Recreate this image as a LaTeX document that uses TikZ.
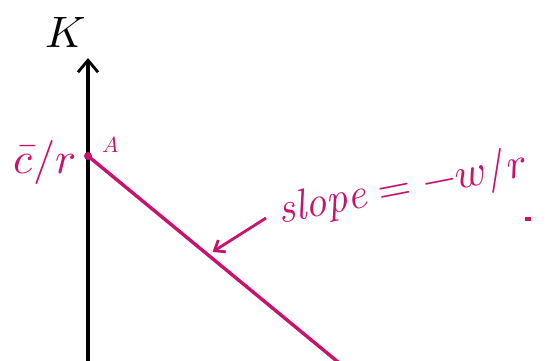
\documentclass[tikz,border=0pt]{standalone}
\usepackage{unicode-math}
\usetikzlibrary{arrows.meta,calc}
\definecolor{ink}{RGB}{200,18,110}
\tikzset{
  axisline/.style={line width=3.4pt,-{Straight Barb[length=12pt,width=20pt,line width=2.8pt]}},
  budget/.style={ink,line width=3.4pt},
  bigtext/.style={inner sep=0pt,font=\fontsize{44}{46}\selectfont}
}
\begin{document}
\begin{tikzpicture}[x=1pt,y=-1pt]
\useasboundingbox (0,0) rectangle (548,360);

% Coordinates
\coordinate (O) at (88,362);
\coordinate (T) at (88,58);
\coordinate (A) at (88,156);
\coordinate (B) at (338,362);
\coordinate (P) at ($(A)!0.49!(B)$);

% Axis
\draw[axisline] (O) -- (T);
\node[bigtext] (klabel) at (66,32) {$K$};

% Budget line
\draw[budget] (A) -- (B);
\fill[ink] (A) circle (4pt);

% Labels
\node[bigtext,ink] (ctext) at (45,162) {$\bar{c}/r$};
\node[ink,inner sep=0pt,font=\fontsize{22}{24}\selectfont] (atext) at (111,145) {$A$};
\node[bigtext,ink,font=\fontsize{43}{45}\selectfont,rotate=11,anchor=base west] (slope) at (280,224) {$\mathit{slope}=-w/r$};

% Pointer to the line
\draw[budget,line width=2.8pt,-{Straight Barb[length=9pt,width=14pt]}] (266,218) -- ([shift={(2pt,5pt)}]P);
\fill[ink] (525,217) rectangle (531,221);

\end{tikzpicture}
\end{document}
